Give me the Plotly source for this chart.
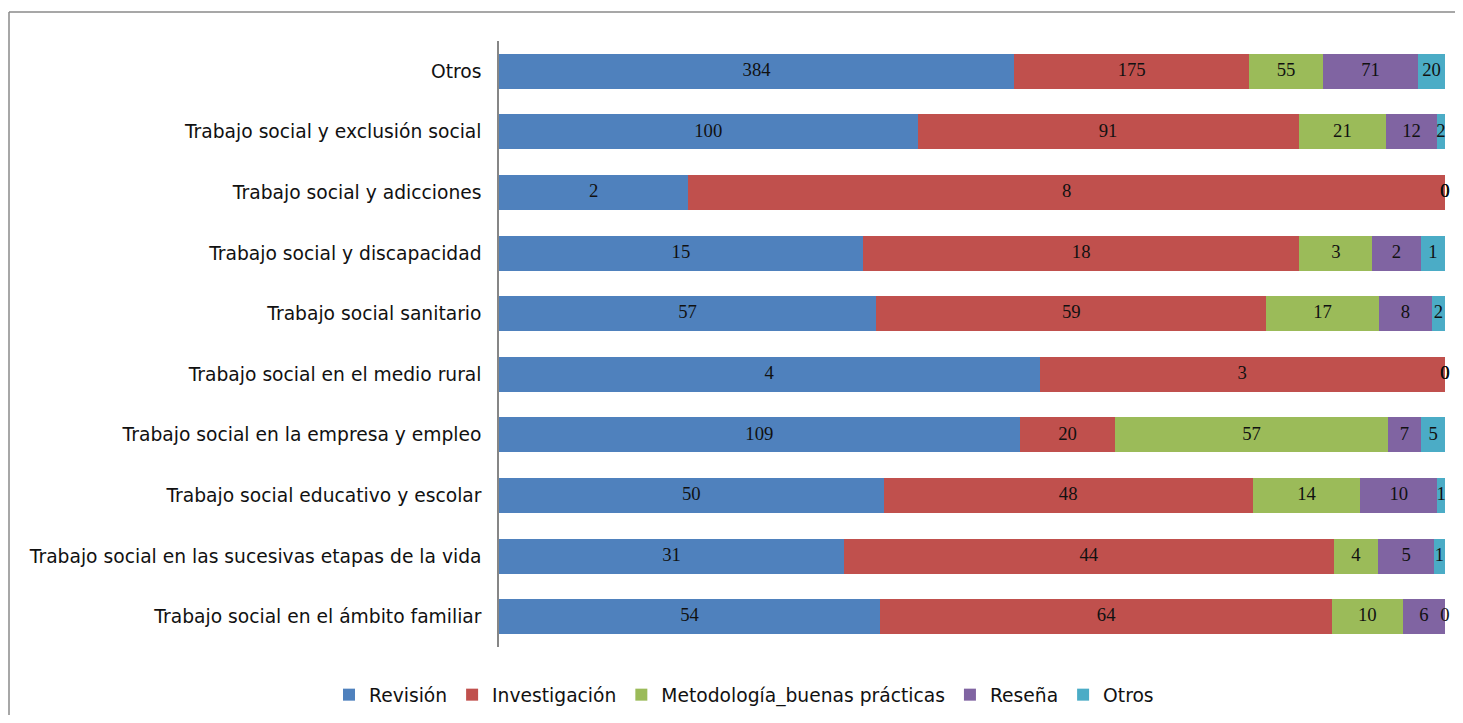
import plotly.graph_objects as go

categories = [
    "Trabajo social en el ámbito familiar",
    "Trabajo social en las sucesivas etapas de la vida",
    "Trabajo social educativo y escolar",
    "Trabajo social en la empresa y empleo",
    "Trabajo social en el medio rural",
    "Trabajo social sanitario",
    "Trabajo social y discapacidad",
    "Trabajo social y adicciones",
    "Trabajo social y exclusión social",
    "Otros",
]

revision = [54, 31, 50, 109, 4, 57, 15, 2, 100, 384]
investigacion = [64, 44, 48, 20, 3, 59, 18, 8, 91, 175]
metodologia = [10, 4, 14, 57, 0, 17, 3, 0, 21, 55]
resena = [6, 5, 10, 7, 0, 8, 2, 0, 12, 71]
otros = [0, 1, 1, 5, 0, 2, 1, 0, 2, 20]

series_names = ["Revisión", "Investigación", "Metodología_buenas prácticas", "Reseña", "Otros"]
series_values = [revision, investigacion, metodologia, resena, otros]
colors = ["#4F81BD", "#C0504D", "#9BBB59", "#8064A2", "#4BACC6"]

totals = [sum(s[i] for s in series_values) for i in range(len(categories))]

fig = go.Figure()
for name, vals, col in zip(series_names, series_values, colors):
    fig.add_trace(go.Bar(
        name=name,
        y=categories,
        x=vals,
        orientation="h",
        marker=dict(color=col, line=dict(width=0)),
        textposition="none",
        hoverinfo="skip",
    ))

# value labels at segment centres (computed from the data, in percent of row total)
cum = [0.0] * len(categories)
for name, vals in zip(series_names, series_values):
    xs = []
    for i, v in enumerate(vals):
        p = 100.0 * v / totals[i]
        xs.append(cum[i] + p / 2.0)
        cum[i] += p
    fig.add_trace(go.Scatter(
        x=xs, y=categories, mode="text",
        text=[str(v) for v in vals],
        textposition="middle center",
        textfont=dict(family="Liberation Serif", size=18.7, color="#111111"),
        showlegend=False, hoverinfo="skip", cliponaxis=False,
    ))

W, H = 1463, 707
L, R, T, B = 491, 26, 33, 68
pw = W - L - R
ph = H - T - B

def px_x(p):
    return (p - L) / pw

def px_y(p):
    return 1 - (p - T) / ph

frame = dict(color="#8a8a8a", width=1.5)

fig.update_layout(
    width=W, height=H,
    barmode="stack",
    barnorm="percent",
    bargap=0.42,
    margin=dict(l=L, r=R, t=T, b=B, autoexpand=False),
    paper_bgcolor="white",
    plot_bgcolor="white",
    showlegend=True,
    legend=dict(
        orientation="h",
        traceorder="normal",
        x=px_x(736), xanchor="center",
        y=px_y(687), yanchor="middle",
        font=dict(family="DejaVu Sans", size=18.7, color="#111111"),
        itemwidth=30,
    ),
    xaxis=dict(range=[0, 100], visible=False, fixedrange=True),
    yaxis=dict(
        categoryorder="array", categoryarray=categories,
        showline=True, linecolor="#868686", linewidth=1.5,
        ticks="", showgrid=False,
        tickfont=dict(family="DejaVu Sans", size=18.7, color="#111111"),
        ticklabelstandoff=12,
    ),
    shapes=[
        dict(type="line", xref="paper", yref="paper",
             x0=px_x(1), x1=px_x(W + 20), y0=px_y(4), y1=px_y(4),
             line=frame, layer="below"),
        dict(type="line", xref="paper", yref="paper",
             x0=px_x(1), x1=px_x(1), y0=px_y(4), y1=px_y(H + 20),
             line=frame, layer="below"),
    ],
)

fig.write_html("out.html")
